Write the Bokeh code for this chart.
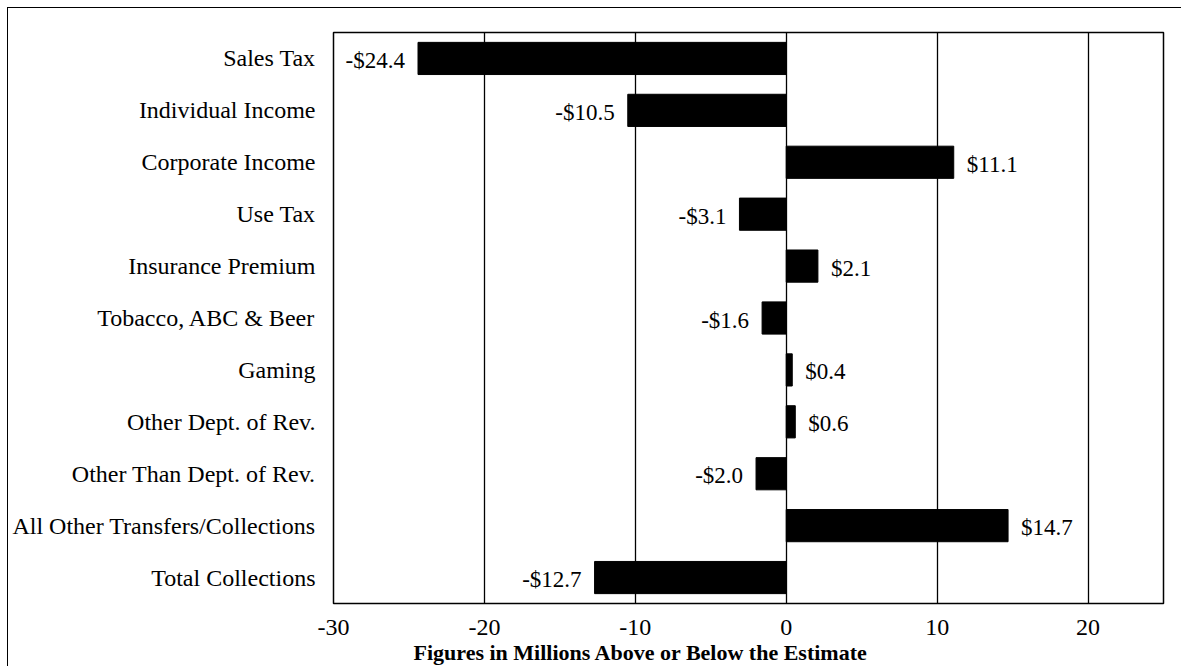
from bokeh.plotting import figure
from bokeh.models import ColumnDataSource, FactorRange, Range1d, FixedTicker, Title
from bokeh.core.properties import value
from bokeh.embed import file_html
from bokeh.resources import INLINE

categories = ["Sales Tax", "Individual Income", "Corporate Income", "Use Tax",
              "Insurance Premium", "Tobacco, ABC & Beer", "Gaming",
              "Other Dept. of Rev.", "Other Than Dept. of Rev.",
              "All Other Transfers/Collections", "Total Collections"]
values = [-24.4, -10.5, 11.1, -3.1, 2.1, -1.6, 0.4, 0.6, -2.0, 14.7, -12.7]
x_ticks = [-30, -20, -10, 0, 10, 20]
x_title = "Figures in Millions Above or Below the Estimate"

FONT = "Liberation Serif"

def fmt(v):
    return ("-$" if v < 0 else "$") + f"{abs(v):.1f}"

labels = [fmt(v) for v in values]

src = ColumnDataSource(dict(cat=categories, val=values, lab=labels))
pos = ColumnDataSource(dict(cat=[c for c, v in zip(categories, values) if v >= 0],
                            val=[v for v in values if v >= 0],
                            lab=[l for l, v in zip(labels, values) if v >= 0]))
neg = ColumnDataSource(dict(cat=[c for c, v in zip(categories, values) if v < 0],
                            val=[v for v in values if v < 0],
                            lab=[l for l, v in zip(labels, values) if v < 0]))

p = figure(width=1181, height=666, output_backend="svg", toolbar_location=None,
           y_range=FactorRange(*list(reversed(categories)), range_padding=0),
           x_range=Range1d(-30, 25),
           min_border_left=333, min_border_right=18, min_border_top=32, min_border_bottom=63)

# outer chart border (left and top edges visible in the window)
p.border_fill_color = None
p.styles = {"background": "linear-gradient(#000,#000) 7px 7px / 1px 100% no-repeat, "
                          "linear-gradient(#000,#000) 7px 7px / 100% 1px no-repeat, #ffffff"}

p.hbar(y="cat", right="val", left=0, height=0.62, source=src,
       fill_color="black", line_color="black")

p.text(x="val", y="cat", text="lab", source=pos, x_offset=13, y_offset=2,
       text_align="left", text_baseline="middle", text_font=value(FONT),
       text_font_size="23px", text_color="black")
p.text(x="val", y="cat", text="lab", source=neg, x_offset=-13, y_offset=2,
       text_align="right", text_baseline="middle", text_font=value(FONT),
       text_font_size="23px", text_color="black")

p.outline_line_color = "black"
p.outline_line_width = 1.5

p.xgrid.ticker = FixedTicker(ticks=x_ticks)
p.xgrid.grid_line_color = "black"
p.xgrid.grid_line_width = 1.3
p.ygrid.grid_line_color = None

p.xaxis.ticker = FixedTicker(ticks=x_ticks)
p.xaxis.major_label_overrides = {t: str(t) for t in x_ticks}
p.xaxis.axis_line_color = None
p.xaxis.major_tick_line_color = None
p.xaxis.minor_tick_line_color = None
p.xaxis.major_label_standoff = 10
p.xaxis.major_label_text_font = FONT
p.xaxis.major_label_text_font_size = "24px"
p.xaxis.major_label_text_color = "black"

p.yaxis.axis_line_color = None
p.yaxis.major_tick_line_color = None
p.yaxis.minor_tick_line_color = None
p.yaxis.major_label_standoff = 12
p.yaxis.major_label_text_font = FONT
p.yaxis.major_label_text_font_size = "24px"
p.yaxis.major_label_text_color = "black"

t = Title(text=x_title, align="left", offset=80, standoff=0,
          text_font=FONT, text_font_size="22px", text_font_style="bold",
          text_color="black")
p.add_layout(t, "below")

open("out.html", "w").write(file_html(p, INLINE))
